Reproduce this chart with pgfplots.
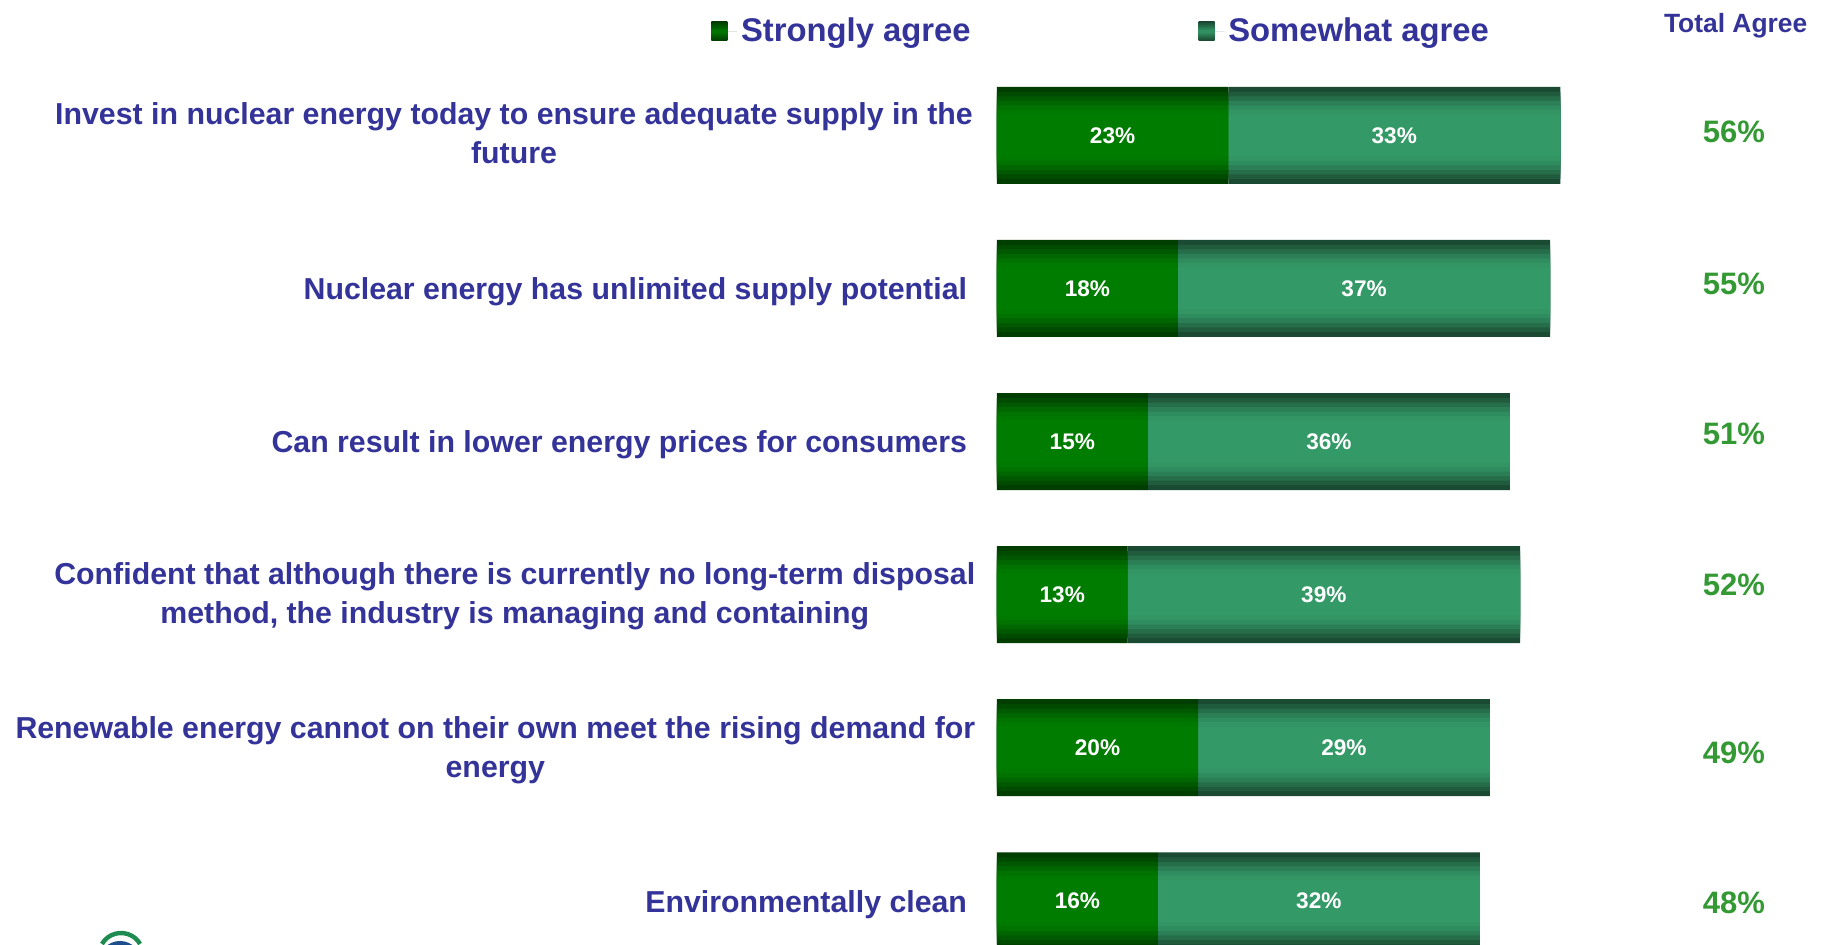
\documentclass[border=0pt]{standalone}
\usepackage{fontspec}
\setmainfont{Liberation Sans}
\usepackage{pgfplots}
\usepackage{pgfplotstable}
\pgfplotsset{compat=1.18}
\definecolor{lblue}{HTML}{333399}
\definecolor{tgreen}{HTML}{339933}
\definecolor{sEdge}{HTML}{003D00}
\definecolor{sMid}{HTML}{007C00}
\definecolor{wEdge}{HTML}{1B4A33}
\definecolor{wMid}{HTML}{339966}
\definecolor{logogreen}{HTML}{1E8C50}
\definecolor{logoblue}{HTML}{1F4E8C}
\pgfplotstableread{
cat strong some
0 23 33
1 18 37
2 15 36
3 13 39
4 20 29
5 16 32
}\datatable
\tikzset{
  seg/.style={inner sep=0pt, font=\bfseries\fontsize{11.3}{13}\selectfont, text=white},
  lab/.style={inner sep=0pt, font=\bfseries\fontsize{15.15}{19.5}\selectfont, text=lblue, align=center, anchor=east},
  tot/.style={inner sep=0pt, font=\bfseries\fontsize{15.5}{18}\selectfont, text=tgreen},
}
\pgfplotsset{
  frame/.style={
    at={(498.45pt,443.1pt)}, anchor=north west,
    scale only axis, width=301.8pt, height=459.3pt,
    xmin=0, xmax=60, ymin=-0.5, ymax=5.5, y dir=reverse,
    hide axis, clip=false,
  },
}
% one band of the vertical gradient: both stacked series, narrower and lighter
\newcommand{\band}[2]{%
\begin{axis}[frame, xbar stacked, bar width=#1]
\addplot[draw=none, fill=sMid!#2!sEdge] table[x=strong, y=cat] {\datatable};
\addplot[draw=none, fill=wMid!#2!wEdge] table[x=some, y=cat] {\datatable};
\end{axis}}
\begin{document}
\begin{tikzpicture}
\useasboundingbox (0pt,0pt) rectangle (910.5pt,472.5pt);
\clip (0pt,0pt) rectangle (910.5pt,472.5pt);
\begin{axis}[
  frame,
  xbar stacked, bar width=48.5pt,
  legend columns=2,
  legend style={at={(-0.4836,1.0302)}, anchor=west, draw=none, fill=none,
    font=\bfseries\fontsize{16.4}{19}\selectfont, text=lblue,
    /tikz/every even column/.append style={column sep=112pt}},
]
\addplot[draw=none, fill=sEdge,
  legend image code/.code={\fill[top color=sEdge, bottom color=sEdge, middle color=sMid] (0pt,-4.6pt) rectangle (8pt,4.6pt); \path (0pt,0pt) -- (12.8pt,0pt);}]
  table[x=strong, y=cat] {\datatable};
\addlegendentry{Strongly agree}
\addplot[draw=none, fill=wEdge,
  legend image code/.code={\fill[top color=wEdge, bottom color=wEdge, middle color=wMid] (0pt,-4.6pt) rectangle (8pt,4.6pt); \path (0pt,0pt) -- (12.8pt,0pt);}]
  table[x=some, y=cat] {\datatable};
\addlegendentry{Somewhat agree}
\end{axis}
\band{43.5pt}{22}
\band{39pt}{45}
\band{34.5pt}{66}
\band{30pt}{84}
\band{25.5pt}{95}
\band{21pt}{100}
% overlay axis for all text (drawn above the bars)
\begin{axis}[frame]
\node[seg] at (axis cs:11.5,0) {23\%};
\node[seg] at (axis cs:39.5,0) {33\%};
\node[seg] at (axis cs:9,1) {18\%};
\node[seg] at (axis cs:36.5,1) {37\%};
\node[seg] at (axis cs:7.5,2) {15\%};
\node[seg] at (axis cs:33,2) {36\%};
\node[seg] at (axis cs:6.5,3) {13\%};
\node[seg] at (axis cs:32.5,3) {39\%};
\node[seg] at (axis cs:10,4) {20\%};
\node[seg] at (axis cs:34.5,4) {29\%};
\node[seg] at (axis cs:8,5) {16\%};
\node[seg] at (axis cs:32,5) {32\%};

\node[lab] at (axis cs:-2.35,-0.015) {Invest in nuclear energy today to ensure adequate supply in the\\future};
\node[lab] at (axis cs:-2.93,1.02) {Nuclear energy has unlimited supply potential};
\node[lab] at (axis cs:-2.93,2.023) {Can result in lower energy prices for consumers};
\node[lab] at (axis cs:-2.12,3.008) {Confident that although there is currently no long-term disposal\\method, the industry is managing and containing};
\node[lab] at (axis cs:-2.12,4.017) {Renewable energy cannot on their own meet the rising demand for\\energy};
\node[lab] at (axis cs:-2.93,5.026) {Environmentally clean};

\node[inner sep=0pt, font=\bfseries\fontsize{13.2}{15}\selectfont, text=lblue] at (axis cs:73.44,-0.717) {Total Agree};
\node[tot] at (axis cs:73.27,-0.025) {56\%};
\node[tot] at (axis cs:73.27,0.97) {55\%};
\node[tot] at (axis cs:73.27,1.95) {51\%};
\node[tot] at (axis cs:73.27,2.935) {52\%};
\node[tot] at (axis cs:73.27,4.03) {49\%};
\node[tot] at (axis cs:73.27,5.015) {48\%};
\end{axis}
% partial logo at the bottom edge
\fill[logoblue] (60pt,-8.5pt) circle (10.5pt);
\draw[logogreen, line width=2.2pt] (60.5pt,-5pt) ++(150:11pt) arc (150:30:11pt);
\end{tikzpicture}
\end{document}
